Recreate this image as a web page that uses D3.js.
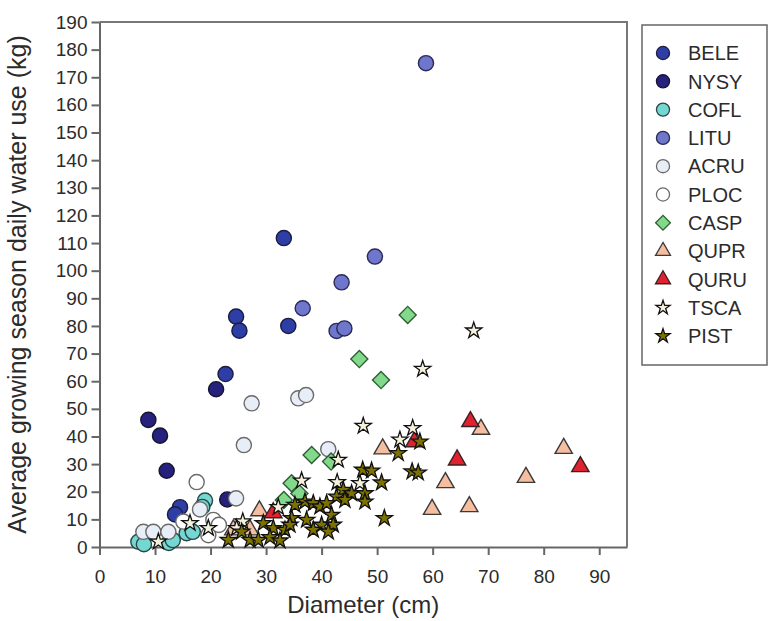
<!DOCTYPE html>
<html>
<head>
<meta charset="utf-8">
<script src="https://cdn.jsdelivr.net/npm/d3@7"></script>
<style>
  body { margin: 0; background: #fff; }
  text { font-family: "Liberation Sans", Arial, sans-serif; fill: #2b2b2b; }
</style>
</head>
<body>
<div class="main"></div>
<script>
// tick labels
var xTicks = [0, 10, 20, 30, 40, 50, 60, 70, 80, 90];
var yTicks = [0, 10, 20, 30, 40, 50, 60, 70, 80, 90, 100, 110, 120, 130, 140, 150, 160, 170, 180, 190];

// species in legend order
var species = ["BELE", "NYSY", "COFL", "LITU", "ACRU", "PLOC", "CASP", "QUPR", "QURU", "TSCA", "PIST"];

// [diameter (cm), water use (kg)]
var bele = [[33.2, 111.8], [24.6, 83.4], [25.2, 78.3], [34.0, 80.0], [22.7, 62.6], [14.5, 14.4], [13.6, 11.8]];
var nysy = [[8.8, 46.0], [10.9, 40.3], [12.1, 27.6], [21.0, 57.1], [23.0, 17.2]];
var cofl = [[7.0, 1.9], [8.0, 1.0], [12.5, 1.5], [13.2, 2.5], [15.7, 5.0], [16.8, 5.5], [19.0, 16.8], [18.5, 14.5]];
var litu = [[58.8, 175.1], [49.6, 105.1], [43.6, 95.8], [36.6, 86.4], [42.7, 78.2], [44.1, 79.1]];
var acru = [[27.4, 52.0], [26.0, 36.9], [35.8, 53.8], [37.2, 55.0], [41.2, 35.4], [24.6, 17.6], [18.1, 13.6], [7.9, 5.5], [9.7, 5.5], [12.4, 5.5]];
var ploc = [[17.5, 23.5], [15.1, 9.2], [20.5, 9.8], [19.6, 4.3], [21.5, 8.0]];
var casp = [[55.5, 84.0], [46.8, 68.0], [50.7, 60.4], [38.2, 33.3], [41.7, 30.9], [34.6, 23.1], [36.0, 19.4], [33.2, 17.0]];
var qupr = [[51.0, 35.5], [68.7, 42.6], [62.3, 23.3], [59.9, 13.6], [66.6, 14.6], [76.8, 25.2], [83.6, 35.7], [28.8, 13.1], [24.1, 6.2], [27.1, 6.2]];
var quru = [[66.8, 45.4], [64.4, 31.5], [86.6, 29.1], [56.7, 38.1], [31.3, 12.4]];
var tsca = [[67.4, 78.3], [58.2, 64.4], [47.5, 43.8], [56.4, 43.0], [54.1, 38.8], [43.0, 31.5], [36.4, 24.0], [42.8, 23.4],
  [46.9, 23.1], [32.2, 14.4], [25.8, 9.2], [24.7, 6.8], [16.3, 8.6], [19.6, 6.8], [10.6, 1.9]];
var pist = [[47.4, 27.9], [49.0, 27.6], [50.8, 23.3], [51.3, 10.4], [43.9, 20.6], [45.4, 19.4], [47.8, 19.4], [42.7, 18.2],
  [47.8, 16.4], [44.2, 17.0], [37.0, 16.4], [38.5, 15.8], [39.7, 14.6], [40.9, 15.8], [35.2, 15.2], [41.8, 11.6],
  [34.6, 10.4], [37.3, 9.8], [40.0, 8.0], [42.1, 8.0], [38.5, 6.2], [41.2, 5.5], [29.5, 8.6], [31.3, 6.8],
  [33.4, 6.2], [34.3, 8.0], [25.6, 5.5], [23.2, 2.5], [27.1, 2.5], [28.6, 2.5], [30.7, 3.5], [32.5, 2.3],
  [53.8, 33.9], [56.3, 27.3], [57.4, 26.9], [57.7, 38.1]];

var seriesData = [bele, nysy, cofl, litu, acru, ploc, casp, qupr, quru, tsca, pist];

// marker look per species
var look = {
  BELE: { shape: "circle", fill: "#2d3fa6", stroke: "#1c1c40" },
  NYSY: { shape: "circle", fill: "#26217c", stroke: "#141432" },
  COFL: { shape: "circle", fill: "#74d8d2", stroke: "#2d4444" },
  LITU: { shape: "circle", fill: "#6f77cc", stroke: "#2a2a55" },
  ACRU: { shape: "circle", fill: "#e8eef8", stroke: "#6a6a6a" },
  PLOC: { shape: "circle", fill: "#ffffff", stroke: "#6a6a6a" },
  CASP: { shape: "diamond", fill: "#82d98b", stroke: "#2c5e32" },
  QUPR: { shape: "triangle", fill: "#f6bea0", stroke: "#3a3a3a" },
  QURU: { shape: "triangle", fill: "#e0212f", stroke: "#3a2020" },
  TSCA: { shape: "star", fill: "#f4f2dc", stroke: "#111111" },
  PIST: { shape: "star", fill: "#7d7200", stroke: "#111111" }
};

var fullwidth = 769, fullheight = 621;
var svg = d3.select(".main")
  .append("svg")
  .attr("width", fullwidth)
  .attr("height", fullheight);

var x = d3.scaleLinear().domain([0, 95]).range([99.5, 627]);
var y = d3.scaleLinear().domain([0, 190]).range([547, 22]);

// symbol path generator, k shrinks it for the legend
function symbolPath(shape, k) {
  var type = d3.symbolCircle, size = 180;
  if (shape == "diamond") { type = d3.symbolSquare; size = 145; }
  if (shape == "triangle") { type = d3.symbolTriangle; size = 130; }
  if (shape == "star") { type = d3.symbolStar; size = 82; }
  return d3.symbol().type(type).size(size * k)();
}

// axes
var xAxis = svg.append("g")
  .attr("transform", "translate(0," + y(0) + ")")
  .call(d3.axisBottom(x).tickValues(xTicks).tickSize(8).tickPadding(15).tickSizeOuter(0));
var yAxis = svg.append("g")
  .attr("transform", "translate(" + x(0) + ",0)")
  .call(d3.axisLeft(y).tickValues(yTicks).tickSize(8).tickPadding(4).tickSizeOuter(0));

[xAxis, yAxis].forEach(function(a) {
  a.selectAll("path, line").attr("stroke", "#666").attr("stroke-width", 2);
  a.selectAll("text").style("font-size", "19px").attr("fill", "#333");
});

// top + right frame
svg.append("path")
  .attr("d", "M" + x(0) + "," + y(190) + "H" + x(95) + "V" + y(0))
  .attr("fill", "none")
  .attr("stroke", "#777")
  .attr("stroke-width", 2);

// points
species.forEach(function(sp, i) {
  var st = look[sp];
  svg.append("g")
    .selectAll("path")
    .data(seriesData[i])
    .join("path")
    .attr("d", symbolPath(st.shape, 1))
    .attr("transform", function(d) {
      return "translate(" + x(d[0]) + "," + y(d[1]) + ")" + (st.shape == "diamond" ? " rotate(45)" : "");
    })
    .attr("fill", st.fill)
    .attr("stroke", st.stroke)
    .attr("stroke-width", st.shape == "star" ? 1.3 : 1.4);
});

// axis titles
svg.append("text")
  .attr("x", (x(0) + x(95)) / 2)
  .attr("y", 613)
  .attr("text-anchor", "middle")
  .style("font-size", "24px")
  .text("Diameter (cm)");

svg.append("text")
  .attr("transform", "rotate(-90)")
  .attr("x", -(y(0) + y(190)) / 2)
  .attr("y", 26)
  .attr("text-anchor", "middle")
  .style("font-size", "25px")
  .text("Average growing season daily water use (kg)");

// legend
var legend = svg.append("g");
legend.append("rect")
  .attr("x", 642).attr("y", 25)
  .attr("width", 125).attr("height", 340)
  .attr("fill", "#fff")
  .attr("stroke", "#666")
  .attr("stroke-width", 1.5);

species.forEach(function(sp, i) {
  var st = look[sp];
  var ly = 53 + i * 28.3;
  legend.append("path")
    .attr("d", symbolPath(st.shape, 0.75))
    .attr("transform", "translate(663," + ly + ")" + (st.shape == "diamond" ? " rotate(45)" : ""))
    .attr("fill", st.fill)
    .attr("stroke", st.stroke)
    .attr("stroke-width", 1.3);
  legend.append("text")
    .attr("x", 688)
    .attr("y", ly)
    .attr("dy", "0.36em")
    .style("font-size", "20px")
    .text(sp);
});
</script>
</body>
</html>
